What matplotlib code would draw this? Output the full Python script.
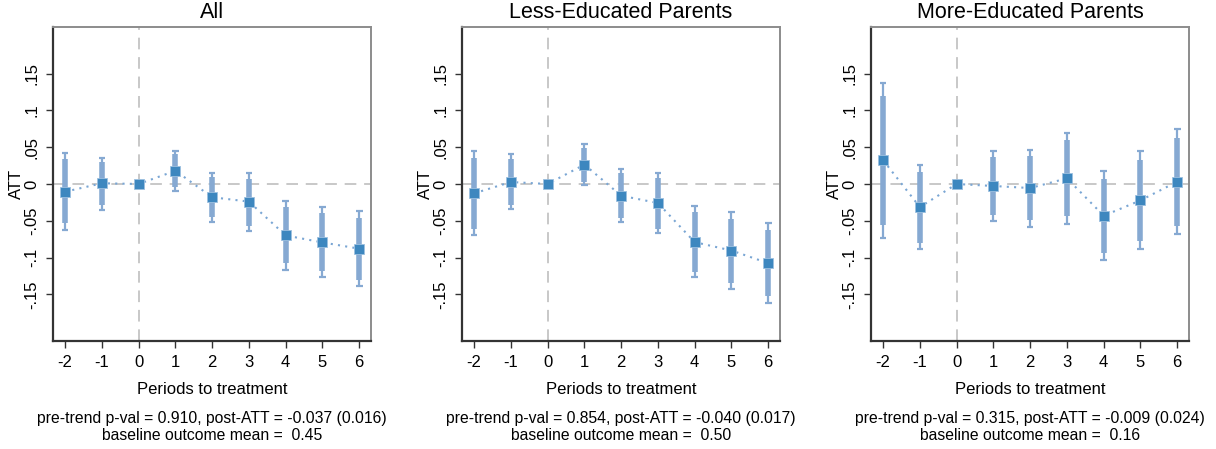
import matplotlib
matplotlib.use("Agg")
import matplotlib.pyplot as plt

plt.rcParams['font.family'] = ['Liberation Sans', 'DejaVu Sans']

periods = [-2, -1, 0, 1, 2, 3, 4, 5, 6]
titles = ["All", "Less-Educated Parents", "More-Educated Parents"]

# point estimates
att_all = [-0.0105, 0.001, 0.0, 0.018, -0.018, -0.024, -0.070, -0.0795, -0.088]
att_less = [-0.0127, 0.0027, 0.0, 0.0264, -0.0159, -0.0259, -0.0791, -0.0905, -0.1077]
att_more = [0.0323, -0.0314, 0.0, -0.0027, -0.0055, 0.0077, -0.0432, -0.0223, 0.0032]

# outer (capped) intervals
lo95_all = [-0.0627, -0.0355, 0.0, -0.0091, -0.0514, -0.0636, -0.1164, -0.1264, -0.1386]
hi95_all = [0.0427, 0.0359, 0.0, 0.045, 0.0155, 0.0145, -0.0232, -0.0314, -0.0373]
lo95_less = [-0.070, -0.0345, 0.0, -0.0018, -0.0523, -0.0673, -0.1268, -0.1423, -0.1623]
hi95_less = [0.045, 0.0409, 0.0, 0.0541, 0.0205, 0.015, -0.0305, -0.0386, -0.0536]
lo95_more = [-0.0736, -0.0891, 0.0, -0.0505, -0.058, -0.054, -0.104, -0.0886, -0.0686]
hi95_more = [0.1373, 0.0259, 0.0, 0.045, 0.0468, 0.070, 0.0177, 0.045, 0.075]

# inner (thick) intervals
lo90_all = [-0.0536, -0.029, 0.0, -0.0045, -0.0455, -0.0573, -0.107, -0.118, -0.130]
hi90_all = [0.0336, 0.0295, 0.0, 0.0405, 0.0091, 0.0073, -0.0318, -0.040, -0.0468]
lo90_less = [-0.0609, -0.0282, 0.0, 0.0032, -0.0459, -0.0609, -0.1191, -0.1341, -0.1527]
hi90_less = [0.035, 0.0336, 0.0, 0.0495, 0.0145, 0.0077, -0.0386, -0.0482, -0.0627]
lo90_more = [-0.0564, -0.080, 0.0, -0.0427, -0.0486, -0.044, -0.094, -0.078, -0.0573]
hi90_more = [0.120, 0.0168, 0.0, 0.0364, 0.0377, 0.0595, 0.0073, 0.0332, 0.0632]

notes = [
    "pre-trend p-val = 0.910, post-ATT = -0.037 (0.016)",
    "pre-trend p-val = 0.854, post-ATT = -0.040 (0.017)",
    "pre-trend p-val = 0.315, post-ATT = -0.009 (0.024)",
]
baselines = ["0.45", "0.50", "0.16"]

yticks = [-0.15, -0.1, -0.05, 0, 0.05, 0.1, 0.15]
ytick_labels = ["-.15", "-.1", "-.05", "0", ".05", ".1", ".15"]

panels = [
    (att_all, lo95_all, hi95_all, lo90_all, hi90_all),
    (att_less, lo95_less, hi95_less, lo90_less, hi90_less),
    (att_more, lo95_more, hi95_more, lo90_more, hi90_more),
]

W, H = 1216, 449
fig = plt.figure(figsize=(W / 100, H / 100), dpi=100)

lefts = [53, 462, 871]
ax_w, ax_top, ax_bot = 318, 27, 341

mark_c = "#3d87bf"
bar_c = "#86a9d2"
line_c = "#7aa6d4"

for i, (est, lo95, hi95, lo90, hi90) in enumerate(panels):
    ax = fig.add_axes([lefts[i] / W, (H - ax_bot) / H, ax_w / W, (ax_bot - ax_top) / H])
    ax.axhline(0, color="#c8c8c8", lw=1.4, ls=(0, (6, 4)), zorder=1)
    ax.axvline(0, color="#c8c8c8", lw=1.4, ls=(0, (6, 4)), zorder=1)

    # thin capped outer bars
    ax.vlines(periods, lo95, hi95, color=bar_c, lw=1.6, zorder=2)
    ax.hlines(lo95, [p - 0.09 for p in periods], [p + 0.09 for p in periods], color=bar_c, lw=1.6, zorder=2)
    ax.hlines(hi95, [p - 0.09 for p in periods], [p + 0.09 for p in periods], color=bar_c, lw=1.6, zorder=2)
    # thick inner bars
    ax.vlines(periods, lo90, hi90, color=bar_c, lw=4.0, zorder=3)

    ax.plot(periods, est, color=line_c, lw=1.5, ls=(0, (1, 2.5)), zorder=4)
    ax.plot(periods, est, ls="none", marker="s", ms=7, color=mark_c, mec="#9cc0e0", mew=0.6, zorder=5)

    ax.set_xlim(-2.33, 6.32)
    ax.set_ylim(-0.2136, 0.2136)
    ax.set_xticks(periods)
    ax.set_xticklabels([str(p) for p in periods], fontsize=12)
    ax.set_yticks(yticks)
    ax.set_yticklabels(ytick_labels, fontsize=12, rotation=90, va="center")
    ax.tick_params(direction="out", length=5, width=1.0, color="#333333", pad=5)

    for side in ["left", "bottom"]:
        ax.spines[side].set_color("#333333")
        ax.spines[side].set_linewidth(1.6)
    for side in ["top", "right"]:
        ax.spines[side].set_color("#8c8c8c")
        ax.spines[side].set_linewidth(1.4)

    ax.set_ylabel("ATT", fontsize=12, labelpad=0)
    ax.set_xlabel("Periods to treatment", fontsize=12, labelpad=9)

    cx = (lefts[i] + ax_w / 2) / W
    fig.text(cx, (H - 13) / H, titles[i], fontsize=15.5, ha="center", va="center")
    fig.text(cx, (H - 419) / H, notes[i], fontsize=11.3, ha="center", va="center")
    fig.text(cx, (H - 435) / H, "baseline outcome mean =  " + baselines[i], fontsize=11.3, ha="center", va="center")

fig.savefig("out.png", dpi=100, facecolor="white")
